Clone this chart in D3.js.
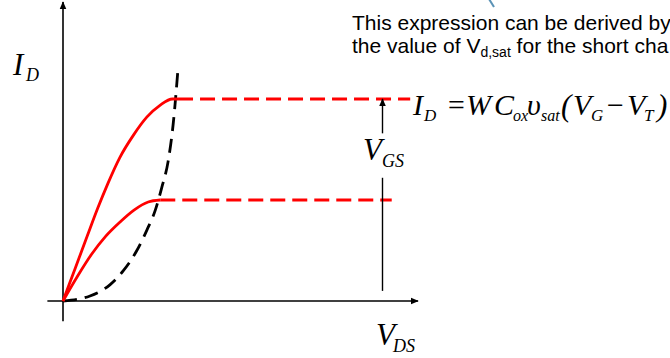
<!DOCTYPE html>
<html>
<head>
<meta charset="utf-8">
<script src="https://cdn.jsdelivr.net/npm/d3@7"></script>
<style>
  html, body { margin: 0; padding: 0; background: #fff; }
  svg { display: block; }
  .serif { font-family: "Liberation Serif", "Times New Roman", serif; font-style: italic; fill: #000; }
  .sans { font-family: "Liberation Sans", Arial, sans-serif; fill: #000; }
</style>
</head>
<body>
<svg id="chart" width="670" height="358"></svg>
<script>
// Drain current I_D versus V_DS for two gate voltages (short-channel MOSFET sketch)
const upperVds = [0, 0.17, 0.34, 0.49, 0.63, 0.80, 0.99, 1.18, 1.37, 1.54, 1.62];
const upperId  = [0, 0.16, 0.32, 0.46, 0.58, 0.71, 0.82, 0.91, 0.97, 1.00, 1.00];
const lowerVds = [0, 0.20, 0.40, 0.60, 0.80, 1.00, 1.20, 1.37];
const lowerId  = [0, 0.12, 0.23, 0.32, 0.39, 0.45, 0.49, 0.50];
// V_d,sat locus (long-channel square-law boundary)
const locusVds = [0, 0.38, 0.66, 0.85, 1.04, 1.18, 1.30, 1.39, 1.48, 1.55, 1.62];
const locusId  = [0, 0.025, 0.08, 0.15, 0.25, 0.35, 0.45, 0.56, 0.69, 0.87, 1.15];
// saturation currents and the V_DS where each dashed plateau starts and stops
const satId    = [1.0, 0.5];
const satStart = [1.62, 1.37];
const satEnd   = [4.89, 4.63];
// V_GS arrow: position and extent (broken around its label)
const vgsVds = 4.5;
const vgsSpan = [0.05, 0.61, 0.83, 1.0];
// axis extents
const xExtent = [-0.22, 5.0];
const yExtent = [-0.1, 1.48];

const svg = d3.select("#chart");
const x = d3.scaleLinear().domain([0, 5]).range([63, 418]);
const y = d3.scaleLinear().domain([0, 1.5]).range([301, -2]);

const defs = svg.append("defs");
defs.append("marker")
  .attr("id", "arrow").attr("viewBox", "0 0 10 10")
  .attr("refX", 9).attr("refY", 5)
  .attr("markerWidth", 8).attr("markerHeight", 8)
  .attr("markerUnits", "userSpaceOnUse")
  .attr("orient", "auto")
  .append("path").attr("d", "M0,0.8 L10,5 L0,9.2 Z").attr("fill", "#000");

// axes
svg.append("line")
  .attr("x1", x(xExtent[0])).attr("x2", x(xExtent[1]))
  .attr("y1", y(0)).attr("y2", y(0))
  .attr("stroke", "#000").attr("stroke-width", 1.6)
  .attr("marker-end", "url(#arrow)");
svg.append("line")
  .attr("x1", x(0)).attr("x2", x(0))
  .attr("y1", y(yExtent[0])).attr("y2", y(yExtent[1]))
  .attr("stroke", "#000").attr("stroke-width", 1.6)
  .attr("marker-end", "url(#arrow)");

const smooth = d3.line().curve(d3.curveMonotoneX);

// dashed V_d,sat locus
svg.append("path")
  .attr("d", smooth(locusVds.map((v, i) => [x(v), y(locusId[i])])))
  .attr("fill", "none").attr("stroke", "#000")
  .attr("stroke-width", 2.8).attr("stroke-dasharray", "14,8");

// solid red rising parts
[[upperVds, upperId], [lowerVds, lowerId]].forEach(([vs, is]) => {
  svg.append("path")
    .attr("d", smooth(vs.map((v, i) => [x(v), y(is[i])])))
    .attr("fill", "none").attr("stroke", "#ff0000")
    .attr("stroke-width", 2.8).attr("stroke-linejoin", "round");
});

// dashed red saturation plateaus
satId.forEach((id, i) => {
  svg.append("line")
    .attr("x1", x(satStart[i])).attr("x2", x(satEnd[i]))
    .attr("y1", y(id)).attr("y2", y(id))
    .attr("stroke", "#ff0000").attr("stroke-width", 3)
    .attr("stroke-dasharray", "15,7");
});

// V_GS arrow
svg.append("line")
  .attr("x1", x(vgsVds)).attr("x2", x(vgsVds))
  .attr("y1", y(vgsSpan[0])).attr("y2", y(vgsSpan[1]))
  .attr("stroke", "#000").attr("stroke-width", 1.4);
svg.append("line")
  .attr("x1", x(vgsVds)).attr("x2", x(vgsVds))
  .attr("y1", y(vgsSpan[2])).attr("y2", y(vgsSpan[3]))
  .attr("stroke", "#000").attr("stroke-width", 1.4)
  .attr("marker-end", "url(#arrow)");

// axis and arrow labels: italic symbol with a subscript
function symbol(xp, yp, main, sub, size, subSize, subX, subDy) {
  svg.append("text").attr("class", "serif")
    .attr("x", xp).attr("y", yp).attr("font-size", size).text(main);
  svg.append("text").attr("class", "serif")
    .attr("x", subX).attr("y", yp + subDy).attr("font-size", subSize).text(sub);
}
symbol(13, 75, "I", "D", 31, 18, 26, 6);
symbol(376, 345, "V", "DS", 31, 18, 393, 7);
symbol(363, 160, "V", "GS", 31, 18, 382, 7);

// explanatory text
svg.append("text").attr("class", "sans").attr("x", 352).attr("y", 30)
  .attr("font-size", 21).text("This expression can be derived by");
const t2 = svg.append("text").attr("class", "sans").attr("x", 352).attr("y", 53)
  .attr("font-size", 21);
t2.append("tspan").text("the value of V");
t2.append("tspan").attr("font-size", 14).attr("dy", 4).text("d,sat");
t2.append("tspan").attr("dy", -4).text(" for the short cha");

// saturation current expression
const eq = svg.append("g");
const base = 115;
function put(xp, dy, size, txt, italic = true) {
  eq.append("text").attr("class", "serif")
    .attr("x", xp).attr("y", base + dy).attr("font-size", size)
    .attr("font-style", italic ? "italic" : "normal").text(txt);
}
put(413, 0, 30, "I");
put(424, 6, 17, "D");
put(446, 0, 30, "=", false);
put(466, 0, 30, "W");
put(494, 0, 30, "C");
put(513, 6, 16, "ox");
put(527, 0, 30, "\u03C5");
put(541, 6, 16, "sat");
put(561, 1, 31, "(", false);
put(573, 0, 30, "V");
put(591, 6, 17, "G");
put(605, 0, 30, "\u2212", false);
put(627, 0, 30, "V");
put(644, 6, 17, "T");
put(657, 1, 31, ")", false);

// small callout stroke at the top edge
svg.append("line")
  .attr("x1", 489).attr("y1", -1).attr("x2", 494).attr("y2", 7)
  .attr("stroke", "#5b93b6").attr("stroke-width", 2);
</script>
</body>
</html>
